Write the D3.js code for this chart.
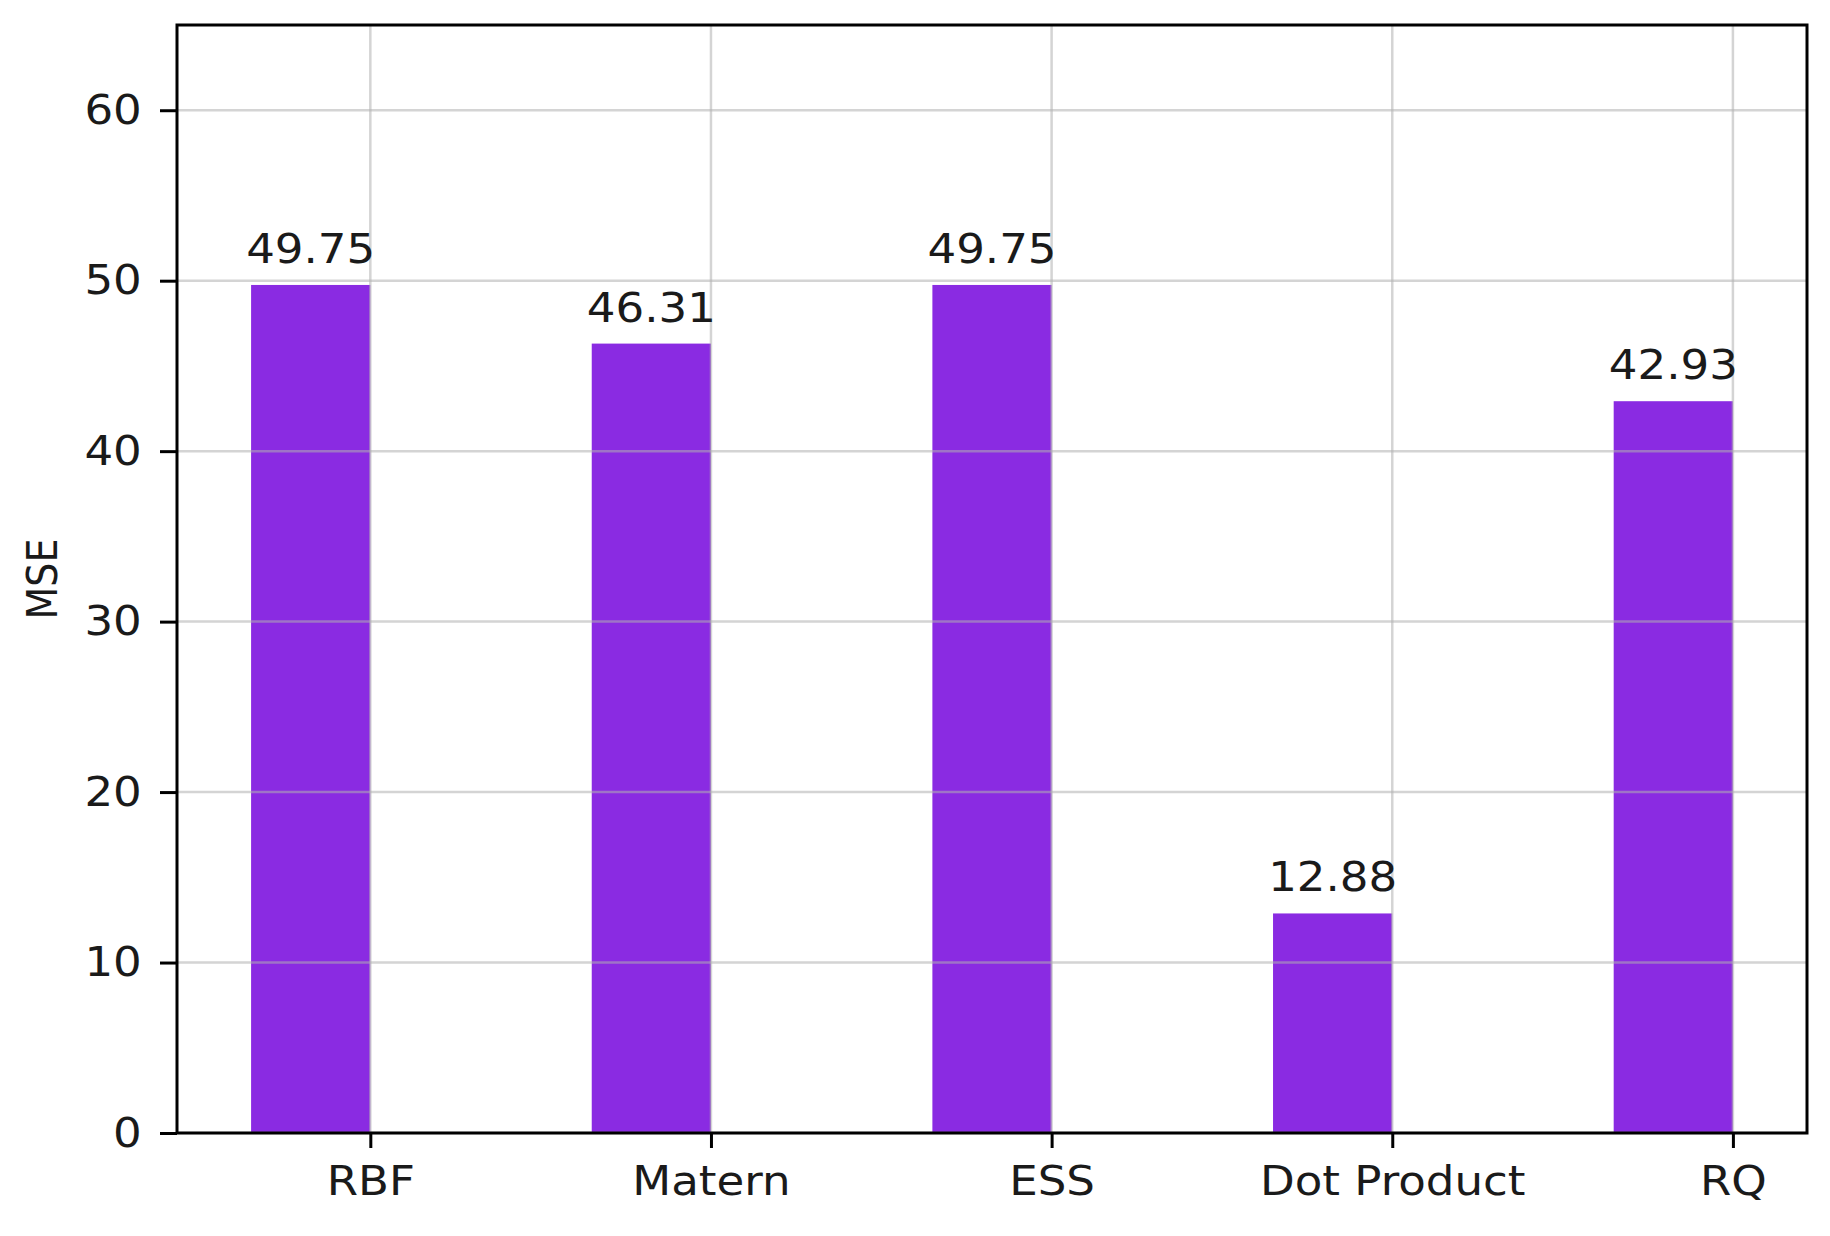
<!DOCTYPE html>
<html lang="en">
<head>
  <meta charset="UTF-8">
  <title>MSE by kernel</title>
  <style>
    body {
      margin: 0;
      background-color: #fff;
    }
    svg {
      display: block;
      font-family: "DejaVu Sans", sans-serif;
    }
  </style>
</head>
<body>
  <svg></svg>

  <script src="https://d3js.org/d3.v7.min.js"></script>
  <script>
    // data
    const kernels = ["RBF", "Matern", "ESS", "Dot Product", "RQ"];
    const mseValues = [49.75, 46.31, 49.75, 12.88, 42.93];
    const yTicks = [0, 10, 20, 30, 40, 50, 60];

    const width = 1830;
    const height = 1236;
    const margin = {left: 177, right: 23, top: 25, bottom: 103};
    const barWidth = 0.35;   // in category units, bar sits left of the tick
    const stretch = 1.1;     // the source image text is a bit wider than tall

    const svg = d3.select("svg")
      .attr("width", width)
      .attr("height", height);

    // x is a linear scale over category index, like matplotlib's bar positions
    const xMin = -barWidth, xMax = kernels.length - 1;
    const pad = (xMax - xMin) * 0.05;
    const x = d3.scaleLinear()
      .domain([xMin - pad, xMax + pad])
      .range([margin.left, width - margin.right]);

    const y = d3.scaleLinear()
      .domain([0, 65])
      .range([height - margin.bottom, margin.top]);

    const plot = svg.append("g");

    // bars
    plot.selectAll("rect.bar")
      .data(mseValues)
      .join("rect")
      .attr("class", "bar")
      .attr("x", (d, i) => x(i - barWidth))
      .attr("width", x(barWidth) - x(0))
      .attr("y", d => y(d))
      .attr("height", d => y(0) - y(d))
      .attr("fill", "#8a2be2");

    // grid on top of the bars, semi transparent
    const grid = plot.append("g")
      .attr("stroke", "#b0b0b0")
      .attr("stroke-opacity", 0.55)
      .attr("stroke-width", 2.5);
    grid.selectAll("line.h")
      .data(yTicks)
      .join("line")
      .attr("class", "h")
      .attr("x1", margin.left)
      .attr("x2", width - margin.right)
      .attr("y1", d => y(d))
      .attr("y2", d => y(d));
    grid.selectAll("line.v")
      .data(kernels)
      .join("line")
      .attr("class", "v")
      .attr("x1", (d, i) => x(i))
      .attr("x2", (d, i) => x(i))
      .attr("y1", margin.top)
      .attr("y2", height - margin.bottom);

    // value labels
    plot.selectAll("text.val")
      .data(mseValues)
      .join("text")
      .attr("class", "val")
      .attr("transform", (d, i) => `translate(${x(i - barWidth / 2)},${y(d) - 22}) scale(${stretch},1)`)
      .attr("text-anchor", "middle")
      .attr("font-size", 41)
      .attr("fill", "#1a1a1a")
      .text(d => d.toFixed(2));

    // axes
    const xAxis = d3.axisBottom(x)
      .tickValues(d3.range(kernels.length))
      .tickFormat(i => kernels[i])
      .tickSize(15)
      .tickPadding(18);
    const yAxis = d3.axisLeft(y)
      .tickValues(yTicks)
      .tickSize(17)
      .tickPadding(15);

    const gx = svg.append("g")
      .attr("transform", `translate(0,${y(0)})`)
      .call(xAxis);
    const gy = svg.append("g")
      .attr("transform", `translate(${margin.left},0)`)
      .call(yAxis);

    [gx, gy].forEach(g => {
      g.select(".domain").remove();
      g.selectAll(".tick line").attr("stroke", "#000").attr("stroke-width", 3);
      g.selectAll(".tick text")
        .attr("font-size", 41)
        .attr("font-family", "DejaVu Sans, sans-serif")
        .attr("fill", "#1a1a1a")
        .attr("transform", `scale(${stretch},1)`);
    });

    // frame
    svg.append("rect")
      .attr("x", margin.left)
      .attr("y", margin.top)
      .attr("width", width - margin.left - margin.right)
      .attr("height", height - margin.top - margin.bottom)
      .attr("fill", "none")
      .attr("stroke", "#000")
      .attr("stroke-width", 3);

    // y label
    svg.append("text")
      .attr("transform", `translate(57,${(margin.top + height - margin.bottom) / 2}) scale(${stretch},1) rotate(-90)`)
      .attr("text-anchor", "middle")
      .attr("font-size", 38)
      .attr("fill", "#1a1a1a")
      .text("MSE");
  </script>
</body>
</html>
